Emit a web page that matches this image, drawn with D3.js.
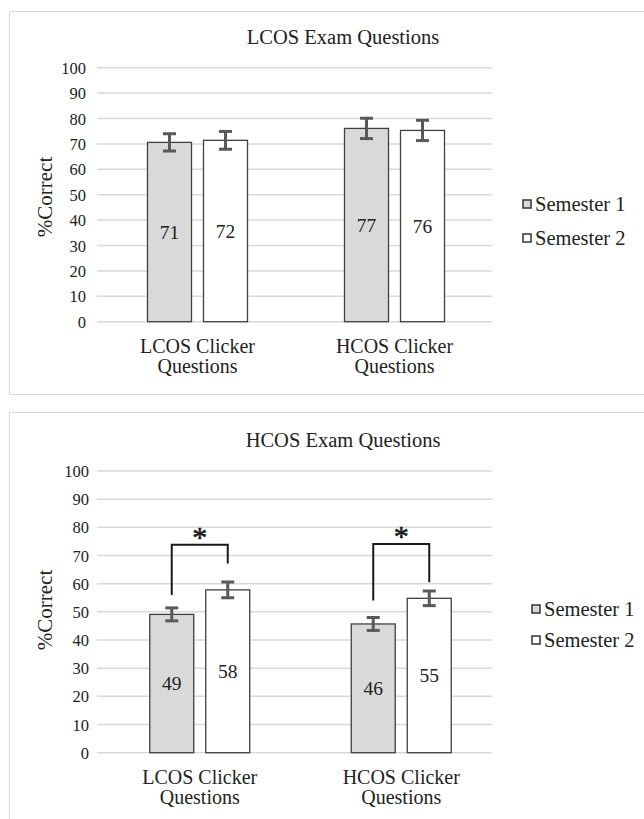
<!DOCTYPE html>
<html>
<head>
<meta charset="utf-8">
<script src="https://cdn.jsdelivr.net/npm/d3@7.9.0/dist/d3.min.js"></script>
<style>
  body { margin: 0; background: #fff; }
  svg { display: block; }
  svg text { font-family: "Liberation Serif", "Times New Roman", serif; }
</style>
</head>
<body>
<svg id="chart" width="644" height="819"></svg>
<script>
// ====== Data ======
const categories = [['LCOS Clicker', 'Questions'], ['HCOS Clicker', 'Questions']];
const seriesNames = ['Semester 1', 'Semester 2'];
const seriesFill = ['#d9d9d9', '#ffffff'];
const yTicks = [0, 10, 20, 30, 40, 50, 60, 70, 80, 90, 100];

// LCOS exam questions
const lcosSem1 = [70.6, 76.1];
const lcosSem2 = [71.4, 75.3];
const lcosSem1Err = [3.4, 4.0];
const lcosSem2Err = [3.5, 4.0];
const lcosSem1Labels = ['71', '77'];
const lcosSem2Labels = ['72', '76'];

// HCOS exam questions
const hcosSem1 = [49.1, 45.7];
const hcosSem2 = [57.8, 54.8];
const hcosSem1Err = [2.3, 2.3];
const hcosSem2Err = [2.8, 2.6];
const hcosSem1Labels = ['49', '46'];
const hcosSem2Labels = ['58', '55'];

// significance brackets, in % units
const hcosBracketTop = [73.8, 74.1];
const hcosBracketLeftEnd = [56, 54];
const hcosBracketRightEnd = [67.2, 60.5];

const FONT = '"Liberation Serif", "Times New Roman", serif';

// ====== Panels ======
const panels = [
  {
    title: 'LCOS Exam Questions',
    values: [lcosSem1, lcosSem2],
    errors: [lcosSem1Err, lcosSem2Err],
    labels: [lcosSem1Labels, lcosSem2Labels],
    brackets: null,
    box: { x: 9.5, y: 11.5, w: 640, h: 383 },
    titleY: 37,
    grid: { left: 97, right: 492 },
    band: [99, 493],
    yRange: [321.7, 67.7],
    tickPad: 11,
    legend: { x: 523, y: 204, gap: 34 },
    yTitle: { x: 45, y: 197 },
  },
  {
    title: 'HCOS Exam Questions',
    values: [hcosSem1, hcosSem2],
    errors: [hcosSem1Err, hcosSem2Err],
    labels: [hcosSem1Labels, hcosSem2Labels],
    brackets: { top: hcosBracketTop, left: hcosBracketLeftEnd, right: hcosBracketRightEnd },
    box: { x: 9.5, y: 412.5, w: 640, h: 440 },
    titleY: 440,
    grid: { left: 97, right: 492 },
    band: [99, 502],
    yRange: [752.7, 471],
    tickPad: 8,
    legend: { x: 532, y: 609, gap: 31 },
    yTitle: { x: 45, y: 610 },
  },
];

const svg = d3.select('#chart');

function addText(g, x, y, size, str) {
  return g.append('text')
    .attr('x', x).attr('y', y)
    .attr('font-family', FONT)
    .attr('font-size', size).attr('fill', '#222')
    .attr('dominant-baseline', 'central')
    .text(str);
}

function drawPanel(p) {
  const g = svg.append('g');

  // border
  g.append('rect')
    .attr('x', p.box.x).attr('y', p.box.y)
    .attr('width', p.box.w).attr('height', p.box.h)
    .attr('fill', 'none').attr('stroke', '#d9d9d9').attr('stroke-width', 1);

  // title
  addText(g, 343, p.titleY, 20.5, p.title).attr('text-anchor', 'middle');

  const y = d3.scaleLinear().domain([0, 100]).range(p.yRange);
  const x0 = d3.scaleBand().domain(d3.range(categories.length)).range(p.band);
  const x1 = d3.scaleBand().domain(d3.range(seriesNames.length)).range([-50, 50]).paddingInner(0.2143);

  // gridlines
  g.append('g').selectAll('line').data(yTicks).join('line')
    .attr('x1', p.grid.left).attr('x2', p.grid.right)
    .attr('y1', (d) => y(d)).attr('y2', (d) => y(d))
    .attr('stroke', '#d9d9d9').attr('stroke-width', 1.5);

  // y axis labels
  const axis = g.append('g')
    .attr('transform', `translate(${p.grid.left},0)`)
    .call(d3.axisLeft(y).tickValues(yTicks).tickSize(0).tickPadding(p.tickPad))
    .attr('font-family', FONT).attr('font-size', 16.5);
  axis.select('.domain').remove();
  axis.selectAll('text').attr('fill', '#222').attr('dy', null).attr('dominant-baseline', 'central');

  // y title
  addText(g, 0, 0, 21, '%Correct')
    .attr('transform', `translate(${p.yTitle.x},${p.yTitle.y}) rotate(-90)`)
    .attr('text-anchor', 'middle');

  // bars
  seriesNames.forEach((name, s) => {
    p.values[s].forEach((v, c) => {
      const cx = x0(c) + x0.bandwidth() / 2;
      const bx = cx + x1(s);
      g.append('rect')
        .attr('x', bx).attr('y', y(v))
        .attr('width', x1.bandwidth()).attr('height', y(0) - y(v))
        .attr('fill', seriesFill[s]).attr('stroke', '#404040').attr('stroke-width', 1.3);

      // value label in the middle of the bar
      addText(g, bx + x1.bandwidth() / 2, y(v / 2), 19.5, p.labels[s][c]).attr('text-anchor', 'middle');

      // error bar
      const mx = bx + x1.bandwidth() / 2;
      const e = p.errors[s][c];
      const eb = g.append('g').attr('stroke', '#595959').attr('stroke-width', 3);
      eb.append('line').attr('x1', mx).attr('x2', mx).attr('y1', y(v + e)).attr('y2', y(v - e));
      [v + e, v - e].forEach((ev) => {
        eb.append('line').attr('x1', mx - 6.5).attr('x2', mx + 6.5).attr('y1', y(ev)).attr('y2', y(ev));
      });
    });
  });

  // significance brackets
  if (p.brackets) {
    categories.forEach((cat, c) => {
      const cx = x0(c) + x0.bandwidth() / 2;
      const lx = cx + x1(0) + x1.bandwidth() / 2;
      const rx = cx + x1(1) + x1.bandwidth() / 2;
      const ty = y(p.brackets.top[c]);
      g.append('path')
        .attr('d', `M${lx},${y(p.brackets.left[c])}V${ty}H${rx}V${y(p.brackets.right[c])}`)
        .attr('fill', 'none').attr('stroke', '#1a1a1a').attr('stroke-width', 2);
      g.append('text')
        .attr('x', (lx + rx) / 2).attr('y', ty + 2)
        .attr('text-anchor', 'middle')
        .attr('font-family', FONT)
        .attr('font-size', 30).attr('fill', '#1a1a1a')
        .attr('stroke', '#1a1a1a').attr('stroke-width', 0.6)
        .text('*');
    });
  }

  // category labels
  categories.forEach((lines, c) => {
    const cx = x0(c) + x0.bandwidth() / 2;
    lines.forEach((line, i) => {
      addText(g, cx, y(0) + 24 + i * 20, 20, line).attr('text-anchor', 'middle');
    });
  });

  // legend
  seriesNames.forEach((name, s) => {
    const ly = p.legend.y + s * p.legend.gap;
    g.append('rect')
      .attr('x', p.legend.x).attr('y', ly - 4)
      .attr('width', 8).attr('height', 8)
      .attr('fill', seriesFill[s]).attr('stroke', '#333').attr('stroke-width', 1.5);
    addText(g, p.legend.x + 12, ly, 20.5, name);
  });
}

panels.forEach(drawPanel);
</script>
</body>
</html>
